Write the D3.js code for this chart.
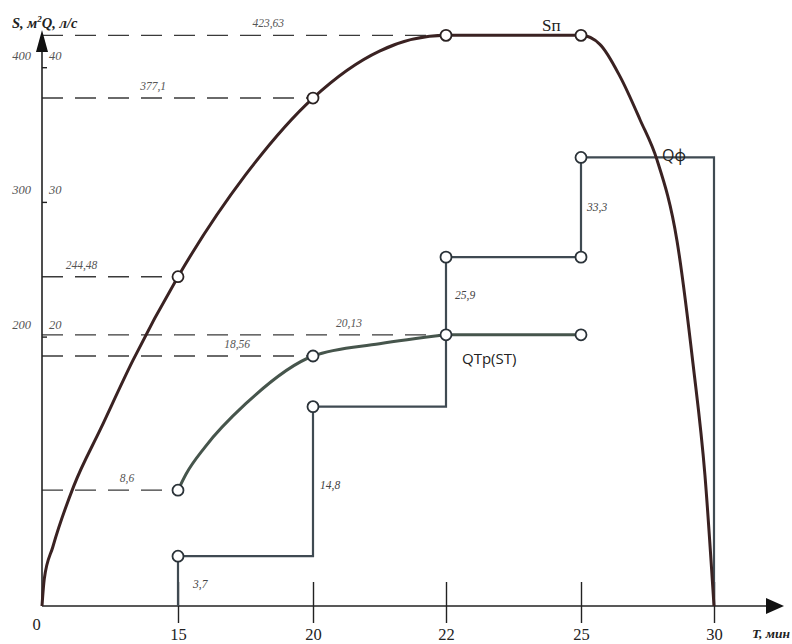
<!DOCTYPE html>
<html><head><meta charset="utf-8">
<script src="https://cdn.jsdelivr.net/npm/d3@7"></script>
<style>body{margin:0;background:#fff}</style>
</head><body>
<svg id="c" width="792" height="644"></svg>
<script>
// ---------- data ----------
const tTicks = [0, 15, 20, 22, 25, 30];
const tTickLabels = ["0", "15", "20", "22", "25", "30"];
const sTicks = [200, 300, 400];
const qTicks = [20, 30, 40];

// Sп curve (S, m2)
const sCurveT = [0, 0.25, 1.2, 3.5, 6.5, 10, 15, 17.5, 20, 21, 22, 25, 25.71, 26.47, 27.22, 27.86, 28.61, 29.21, 29.66, 30];
const sCurveS = [0, 20, 44, 89, 132, 182, 244.48, 320, 377.1, 412, 423.63, 423.63, 417, 393, 361, 331, 271, 180, 97, 0];
const sMarkT = [15, 20, 22, 25];
const sMarkS = [244.48, 377.1, 423.63, 423.63];

// QTp(ST) curve (Q, l/s)
const qtrT = [15, 15.3, 16, 17.5, 20, 21, 22];
const qtrQ = [8.6, 9.8, 11.8, 15.0, 18.56, 19.47, 20.13];
const qtrFlatT = [22, 25];
const qtrFlatQ = [20.13, 20.13];
const qtrMarkT = [15, 20, 22, 25];
const qtrMarkQ = [8.6, 18.56, 20.13, 20.13];

// Qф step line (Q, l/s)
const qfT = [15, 15, 20, 22, 25, 30];
const qfQ = [0, 3.7, 14.8, 25.9, 33.3, 0];
const qfMarkT = [15, 20, 22, 25, 25];
const qfMarkQ = [3.7, 14.8, 25.9, 25.9, 33.3];

// dashed reference lines (S units) and their labels
const refS = [423.63, 377.1, 244.48, 201.3, 185.6, 86];
const refToT = [22, 20, 15, 22, 20, 15];
const refLabels = ["423,63", "377,1", "244,48", "20,13", "18,56", "8,6"];

// step value labels
const stepLabelT = [15, 20, 22, 25];
const stepLabels = ["3,7", "14,8", "25,9", "33,3"];

// ---------- layout ----------
const refLabelFrac = [0.56, 0.41, 0.29, 0.76, 0.72, 0.625];
const stepLabelDx = [15, 7, 9, 6];
const stepLabelAtQ = [1.3, 8.7, 22.8, 29.3];

const svg = d3.select("#c");
const x = d3.scaleLinear().domain(tTicks).range([42, 178, 313, 446, 581, 714]);
const y = d3.scaleLinear().domain([0, 400]).range([606, 67.2]);
const yQ = d3.scaleLinear().domain([0, 40]).range([606, 67.2]);

const serifI = "'Liberation Serif', 'DejaVu Serif', serif";
const sans = "'Open Sans', 'Liberation Sans', sans-serif";

// dashed lines
const refG = svg.append("g");
refS.forEach((v, i) => {
  refG.append("line")
    .attr("x1", x(0)).attr("x2", x(refToT[i]))
    .attr("y1", y(v)).attr("y2", y(v))
    .attr("stroke", "#3a3a3a").attr("stroke-width", 1.4)
    .attr("stroke-dasharray", "21,12");
  refG.append("text")
    .attr("x", x(0) + (x(refToT[i]) - x(0)) * refLabelFrac[i])
    .attr("y", y(v) - 8)
    .attr("text-anchor", "middle")
    .attr("font-family", serifI).attr("font-style", "italic")
    .attr("font-size", 11.5).attr("fill", "#555")
    .text(refLabels[i]);
});

// axes
const axX = d3.axisBottom(x).tickValues(tTicks).tickFormat((d, i) => tTickLabels[i]).tickSize(17).tickPadding(5);
const gx = svg.append("g").attr("transform", "translate(0,606)").call(axX);
gx.select(".domain").remove();
gx.selectAll(".tick line").attr("y1", -24).attr("stroke", "#222").attr("stroke-width", 1.4)
  .filter(d => d === 0).remove();
gx.selectAll(".tick text").attr("font-family", serifI).attr("font-size", 16.5).attr("fill", "#222");
gx.selectAll(".tick").filter(d => d === 0).select("text").attr("dx", -6).attr("dy", "0.1em");
svg.append("line").attr("x1", 42).attr("x2", 768).attr("y1", 606).attr("y2", 606)
  .attr("stroke", "#222").attr("stroke-width", 1.6);
svg.append("path").attr("d", "M766,598 L784,606 L766,614 Z").attr("fill", "#111");
svg.append("text").attr("x", 752).attr("y", 638).attr("font-family", serifI)
  .attr("font-style", "italic").attr("font-weight", "bold").attr("font-size", 13.5).attr("fill", "#222")
  .text("T, мин");

const axY = d3.axisLeft(y).tickValues(sTicks).tickSize(5).tickPadding(6);
const gy = svg.append("g").attr("transform", "translate(42,0)").call(axY);
gy.select(".domain").remove();
gy.selectAll(".tick line").attr("x2", 5).attr("stroke", "#222").attr("stroke-width", 1.4);
gy.selectAll(".tick text").attr("dy", -8).attr("font-family", serifI).attr("font-style", "italic")
  .attr("font-size", 12.5).attr("fill", "#555");
const axQ = d3.axisRight(yQ).tickValues(qTicks).tickSize(0).tickPadding(7);
const gq = svg.append("g").attr("transform", "translate(42,0)").call(axQ);
gq.select(".domain").remove();
gq.selectAll(".tick text").attr("dy", -8).attr("font-family", serifI).attr("font-style", "italic")
  .attr("font-size", 12.5).attr("fill", "#555");
svg.append("line").attr("x1", 42).attr("x2", 42).attr("y1", 606).attr("y2", 45)
  .attr("stroke", "#222").attr("stroke-width", 1.6);
svg.append("path").attr("d", "M36,52 L42,30 L48,52 Z").attr("fill", "#111");
const yt = svg.append("text").attr("x", 12).attr("y", 28).attr("font-family", serifI)
  .attr("font-style", "italic").attr("font-weight", "bold").attr("font-size", 14.5).attr("fill", "#222");
yt.append("tspan").text("S, м");
yt.append("tspan").attr("dy", -6).attr("font-size", 9).text("2");
yt.append("tspan").attr("dy", 6).text("Q, л/с");

// Qф step line
const stepLine = d3.line().x((d, i) => x(qfT[i])).y((d, i) => yQ(qfQ[i])).curve(d3.curveStepAfter);
svg.append("path").attr("d", stepLine(qfT)).attr("fill", "none")
  .attr("stroke", "#3f4a52").attr("stroke-width", 2.2);

// QTp curve
const qLine = d3.line().x((d, i) => x(qtrT[i])).y((d, i) => yQ(qtrQ[i])).curve(d3.curveMonotoneX);
svg.append("path").attr("d", qLine(qtrT)).attr("fill", "none")
  .attr("stroke", "#46554c").attr("stroke-width", 3);
svg.append("line").attr("x1", x(qtrFlatT[0])).attr("x2", x(qtrFlatT[1]))
  .attr("y1", yQ(qtrFlatQ[0])).attr("y2", yQ(qtrFlatQ[1]))
  .attr("stroke", "#46554c").attr("stroke-width", 3);

// Sп curve
const sLine = d3.line().x((d, i) => x(sCurveT[i])).y((d, i) => y(sCurveS[i])).curve(d3.curveMonotoneX);
svg.append("path").attr("d", sLine(sCurveT)).attr("fill", "none")
  .attr("stroke", "#3a2222").attr("stroke-width", 3);

// markers
function markers(ts, vs, sc, col) {
  svg.append("g").selectAll("circle").data(ts).join("circle")
    .attr("cx", d => x(d)).attr("cy", (d, i) => sc(vs[i])).attr("r", 5.5)
    .attr("fill", "#fff").attr("stroke", col).attr("stroke-width", 1.8);
}
markers(qfMarkT, qfMarkQ, yQ, "#2a3238");
markers(qtrMarkT, qtrMarkQ, yQ, "#2a3238");
markers(sMarkT, sMarkS, y, "#2a2222");

// step labels
svg.append("g").selectAll("text").data(stepLabels).join("text")
  .attr("x", (d, i) => x(stepLabelT[i]) + stepLabelDx[i]).attr("y", (d, i) => yQ(stepLabelAtQ[i]))
  .attr("font-family", serifI).attr("font-style", "italic").attr("font-size", 11.5).attr("fill", "#444")
  .text(d => d);

// series names
svg.append("text").attr("x", 542).attr("y", 31).attr("font-family", serifI)
  .attr("font-size", 17).attr("fill", "#222").text("Sп");
svg.append("text").attr("x", 662).attr("y", 161).attr("font-family", sans)
  .attr("font-size", 16).attr("fill", "#222").text("Qф");
svg.append("text").attr("x", 462).attr("y", 364).attr("font-family", sans)
  .attr("font-size", 15).attr("fill", "#222").text("QTp(ST)");
</script>
</body></html>
